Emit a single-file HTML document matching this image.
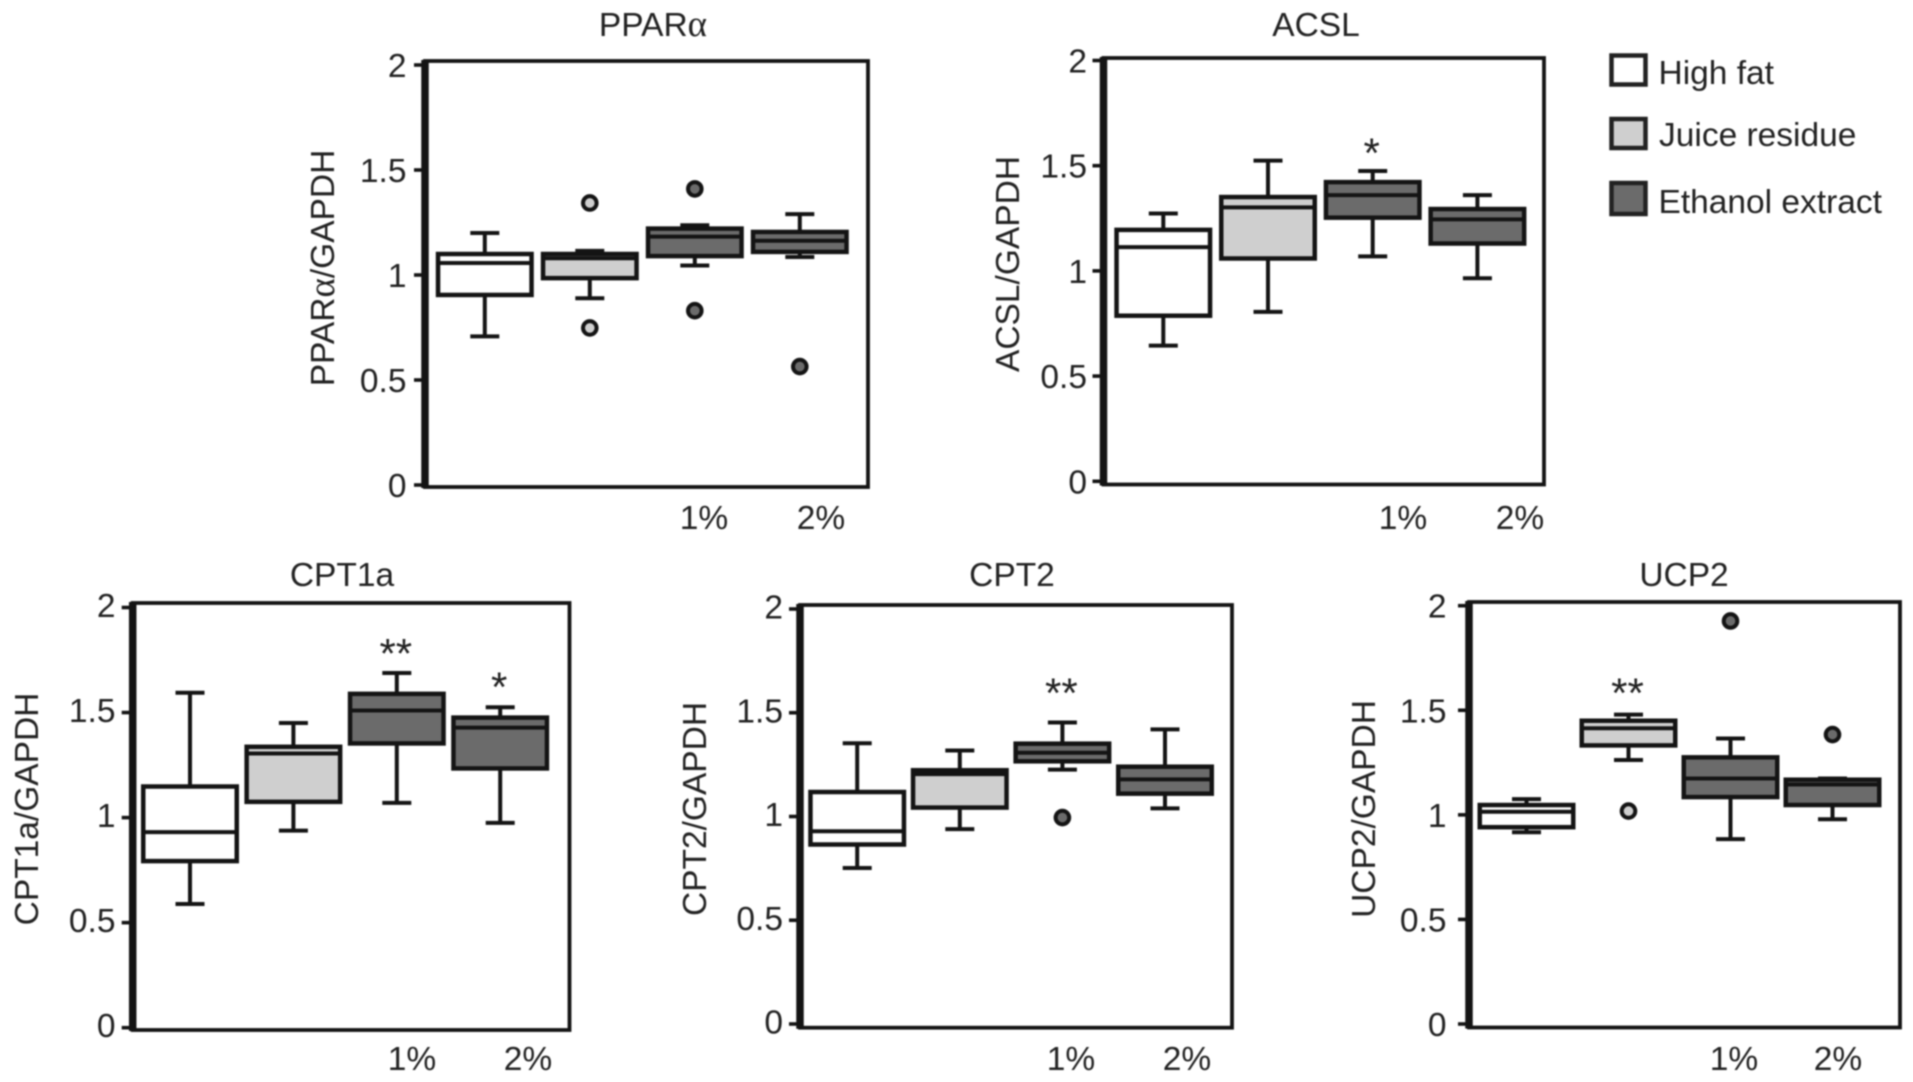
<!DOCTYPE html>
<html lang="en">
<head>
<meta charset="utf-8">
<title>Relative expression box plots</title>
<style>
  html, body { margin: 0; padding: 0; background: #fff; }
  body { width: 1913px; height: 1082px; overflow: hidden; }
  svg { display: block; filter: blur(0.7px); }
  text { font-family: "Liberation Sans", sans-serif; font-size: 33.5px; fill: #222; }
  .greek { font-family: "Liberation Serif", serif; font-size: 37px; }
</style>
</head>
<body>
<svg id="figure" xmlns="http://www.w3.org/2000/svg" width="1913" height="1082" viewBox="0 0 1913 1082">
  <rect width="1913" height="1082" fill="#fff"/>

  <text x="653" y="36" text-anchor="middle">PPAR<tspan class="greek">α</tspan></text>
  <text x="1316" y="36" text-anchor="middle">ACSL</text>
  <text x="342" y="586" text-anchor="middle">CPT1a</text>
  <text x="1012" y="586" text-anchor="middle">CPT2</text>
  <text x="1684" y="586" text-anchor="middle">UCP2</text>

  <text x="334" y="268" text-anchor="middle" transform="rotate(-90 334 268)">PPAR<tspan class="greek">α</tspan>/GAPDH</text>
  <text x="1019" y="264" text-anchor="middle" transform="rotate(-90 1019 264)">ACSL/GAPDH</text>
  <text x="38" y="809" text-anchor="middle" transform="rotate(-90 38 809)">CPT1a/GAPDH</text>
  <text x="706" y="809" text-anchor="middle" transform="rotate(-90 706 809)">CPT2/GAPDH</text>
  <text x="1375" y="809" text-anchor="middle" transform="rotate(-90 1375 809)">UCP2/GAPDH</text>

  <text x="704" y="529" text-anchor="middle">1%</text>
  <text x="821" y="529" text-anchor="middle">2%</text>
  <text x="1403" y="529" text-anchor="middle">1%</text>
  <text x="1520" y="529" text-anchor="middle">2%</text>
  <text x="412" y="1070" text-anchor="middle">1%</text>
  <text x="528" y="1070" text-anchor="middle">2%</text>
  <text x="1071" y="1070" text-anchor="middle">1%</text>
  <text x="1187" y="1070" text-anchor="middle">2%</text>
  <text x="1734" y="1070" text-anchor="middle">1%</text>
  <text x="1838" y="1070" text-anchor="middle">2%</text>

  <g>
    <rect x="1611.5" y="55.5" width="34" height="29" fill="#fff" stroke="#222" stroke-width="4.5"/>
    <text x="1658.5" y="84">High fat</text>
    <rect x="1611.5" y="119" width="34" height="29" fill="#cfcfcf" stroke="#222" stroke-width="4.5"/>
    <text x="1659" y="146">Juice residue</text>
    <rect x="1611.5" y="183" width="34" height="31" fill="#6b6b6b" stroke="#222" stroke-width="4.5"/>
    <text x="1658.5" y="213">Ethanol extract</text>
  </g>
</svg>

<script>
// Shared axis data
const tickValues = [0, 0.5, 1, 1.5, 2];
const tickLabels = ['0', '0.5', '1', '1.5', '2'];
const categories = ['high-fat', 'juice-residue', 'ethanol-1-percent', 'ethanol-2-percent'];
const categoryFills = ['#ffffff', '#cfcfcf', '#6b6b6b', '#6b6b6b'];

// PPARa
const pparaWhiskerHigh = [1.20, 1.115, 1.237, 1.29];
const pparaQ3 = [1.10, 1.10, 1.221, 1.205];
const pparaMedian = [1.057, 1.08, 1.183, 1.163];
const pparaQ1 = [0.905, 0.985, 1.09, 1.11];
const pparaWhiskerLow = [0.708, 0.889, 1.045, 1.086];
const pparaOutliers = [[], [1.343, 0.748], [1.41, 0.83], [0.564]];
const pparaStars = ['', '', '', ''];
const pparaStarLevels = [0, 0, 0, 0];

// ACSL
const acslWhiskerHigh = [1.273, 1.524, 1.475, 1.36];
const acslQ3 = [1.195, 1.351, 1.422, 1.294];
const acslMedian = [1.113, 1.302, 1.36, 1.245];
const acslQ1 = [0.787, 1.059, 1.253, 1.13];
const acslWhiskerLow = [0.645, 0.805, 1.069, 0.965];
const acslOutliers = [[], [], [], []];
const acslStars = ['', '', '*', ''];
const acslStarLevels = [0, 0, 1.581, 0];

// CPT1a
const cpt1aWhiskerHigh = [1.594, 1.45, 1.688, 1.525];
const cpt1aQ3 = [1.148, 1.337, 1.589, 1.476];
const cpt1aMedian = [0.931, 1.305, 1.51, 1.428];
const cpt1aQ1 = [0.793, 1.075, 1.353, 1.234];
const cpt1aWhiskerLow = [0.589, 0.938, 1.07, 0.975];
const cpt1aOutliers = [[], [], [], []];
const cpt1aStars = ['', '', '**', '*'];
const cpt1aStarLevels = [0, 0, 1.803, 1.644];

// CPT2
const cpt2WhiskerHigh = [1.353, 1.318, 1.453, 1.42];
const cpt2Q3 = [1.118, 1.223, 1.351, 1.24];
const cpt2Median = [0.929, 1.204, 1.307, 1.179];
const cpt2Q1 = [0.865, 1.043, 1.266, 1.11];
const cpt2WhiskerLow = [0.752, 0.939, 1.226, 1.039];
const cpt2Outliers = [[], [], [0.995], []];
const cpt2Stars = ['', '', '**', ''];
const cpt2StarLevels = [0, 0, 1.617, 0];

// UCP2
const ucp2WhiskerHigh = [1.075, 1.479, 1.365, 1.174];
const ucp2Q3 = [1.047, 1.45, 1.275, 1.168];
const ucp2Median = [1.015, 1.414, 1.174, 1.145];
const ucp2Q1 = [0.941, 1.332, 1.085, 1.047];
const ucp2WhiskerLow = [0.917, 1.262, 0.884, 0.979];
const ucp2Outliers = [[], [1.018], [1.927], [1.384]];
const ucp2Stars = ['', '**', '', ''];
const ucp2StarLevels = [0, 1.604, 0, 0];

const panels = [
  { key: 'ppara', left: 425, right: 868, top: 61, bottom: 487, yZero: 485, yTwo: 65, start: 484.8, step: 105, labelRight: 406.5, labelDy: 12,
    high: pparaWhiskerHigh, q3: pparaQ3, med: pparaMedian, q1: pparaQ1, low: pparaWhiskerLow, out: pparaOutliers, stars: pparaStars, levels: pparaStarLevels },
  { key: 'acsl', left: 1103.5, right: 1544, top: 58, bottom: 484.5, yZero: 481.3, yTwo: 60.5, start: 1163.3, step: 104.7, labelRight: 1087, labelDy: 12,
    high: acslWhiskerHigh, q3: acslQ3, med: acslMedian, q1: acslQ1, low: acslWhiskerLow, out: acslOutliers, stars: acslStars, levels: acslStarLevels },
  { key: 'cpt1a', left: 132.7, right: 569.5, top: 603, bottom: 1030, yZero: 1027.7, yTwo: 607.5, start: 190, step: 103.4, labelRight: 115.5, labelDy: 9.5,
    high: cpt1aWhiskerHigh, q3: cpt1aQ3, med: cpt1aMedian, q1: cpt1aQ1, low: cpt1aWhiskerLow, out: cpt1aOutliers, stars: cpt1aStars, levels: cpt1aStarLevels },
  { key: 'cpt2', left: 800, right: 1232, top: 605, bottom: 1027.7, yZero: 1024, yTwo: 609, start: 857.2, step: 102.6, labelRight: 783, labelDy: 9.5,
    high: cpt2WhiskerHigh, q3: cpt2Q3, med: cpt2Median, q1: cpt2Q1, low: cpt2WhiskerLow, out: cpt2Outliers, stars: cpt2Stars, levels: cpt2StarLevels },
  { key: 'ucp2', left: 1469, right: 1900, top: 602, bottom: 1027.5, yZero: 1024, yTwo: 605.7, start: 1526.5, step: 102, labelRight: 1446.5, labelDy: 12,
    high: ucp2WhiskerHigh, q3: ucp2Q3, med: ucp2Median, q1: ucp2Q1, low: ucp2WhiskerLow, out: ucp2Outliers, stars: ucp2Stars, levels: ucp2StarLevels }
];

const svgRoot = document.getElementById('figure');
const NS = 'http://www.w3.org/2000/svg';
const INK = '#141414';

function node(parent, tag, attrs) {
  const el = document.createElementNS(NS, tag);
  for (const k in attrs) el.setAttribute(k, attrs[k]);
  parent.appendChild(el);
  return el;
}

function line(parent, x1, y1, x2, y2, width) {
  return node(parent, 'line', { x1: x1, y1: y1, x2: x2, y2: y2, stroke: INK, 'stroke-width': width });
}

panels.forEach(function (p) {
  const yScale = function (v) { return p.yZero + (p.yTwo - p.yZero) * v / 2; };
  const xScale = function (i) { return p.start + p.step * i; };
  const boxWidth = 93.5;
  const capHalf = 14.5;

  const g = node(svgRoot, 'g', {});
  
  

  const frame = node(g, 'rect', { x: p.left, y: p.top, width: p.right - p.left, height: p.bottom - p.top, fill: '#fff', stroke: INK, 'stroke-width': 3.8 });
  
  

  const axis = line(g, p.left, p.top - 1, p.left, p.bottom + 1, 7.5);
  
  

  tickValues.forEach(function (v, t) {
    const tick = line(g, p.left - 11, yScale(v), p.left, yScale(v), 3.6);
    
    
    const label = node(g, 'text', { x: p.labelRight, y: yScale(v) + p.labelDy, 'text-anchor': 'end' });
    label.textContent = tickLabels[t];
    
    
  });

  categories.forEach(function (cat, i) {
    const cx = xScale(i);
    const box = node(g, 'g', {});
    
    

    line(box, cx, yScale(p.high[i]), cx, yScale(p.q3[i]), 4);
    line(box, cx, yScale(p.q1[i]), cx, yScale(p.low[i]), 4);
    line(box, cx - capHalf, yScale(p.high[i]), cx + capHalf, yScale(p.high[i]), 4);
    line(box, cx - capHalf, yScale(p.low[i]), cx + capHalf, yScale(p.low[i]), 4);
    node(box, 'rect', {
      x: cx - boxWidth / 2, y: yScale(p.q3[i]), width: boxWidth, height: yScale(p.q1[i]) - yScale(p.q3[i]),
      fill: categoryFills[i], stroke: INK, 'stroke-width': 4.5
    });
    line(box, cx - boxWidth / 2, yScale(p.med[i]), cx + boxWidth / 2, yScale(p.med[i]), 4);

    p.out[i].forEach(function (v) {
      const dot = node(g, 'circle', { cx: cx, cy: yScale(v), r: 6.8, fill: categoryFills[i], stroke: INK, 'stroke-width': 4 });
      
      
    });

    if (p.stars[i]) {
      const star = node(g, 'text', { x: cx - 1, y: yScale(p.levels[i]) + 19, 'text-anchor': 'middle', style: 'font-size:42px' });
      star.textContent = p.stars[i];
      
      
    }
  });
});
</script>
</body>
</html>
